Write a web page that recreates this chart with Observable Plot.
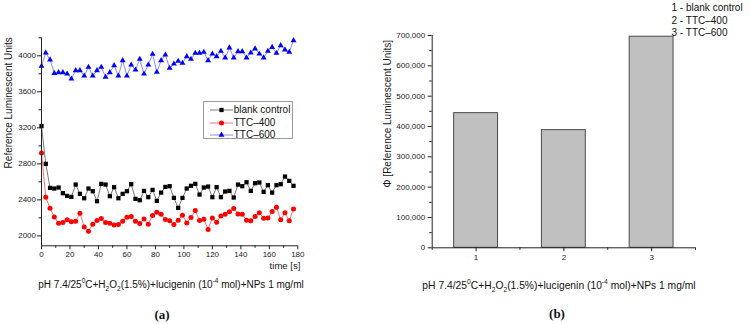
<!DOCTYPE html>
<html>
<head>
<meta charset="utf-8">
<script src="https://cdn.jsdelivr.net/npm/d3@7"></script>
<script src="https://cdn.jsdelivr.net/npm/@observablehq/plot@0.6"></script>
<style>
  body { margin: 0; background: #fff; }
  #wrap { position: relative; width: 750px; height: 324px; overflow: hidden;
          font-family: "Liberation Sans", Arial, sans-serif; color: #111; }
  .panel { position: absolute; top: 0; }
  .cap { position: absolute; white-space: nowrap; transform: translate(-50%, -50%); }
  .cap sub, .cap sup { font-size: 65%; line-height: 0; }
  .tag { position: absolute; transform: translate(-50%, -50%);
         font-family: "Liberation Serif", "Times New Roman", serif; font-weight: bold; font-size: 13px; }
  .legA { position: absolute; border: 1px solid #9a9a9a; background: #fff; box-sizing: border-box; }
  .legA .row { position: absolute; left: 0; height: 12px; font-size: 10px; line-height: 12px; white-space: nowrap; }
  .legA svg { position: absolute; left: 0; top: 0; }
  .legA span { position: absolute; left: 30px; top: 0; }
  .legB { position: absolute; font-size: 10px; line-height: 12.5px; white-space: nowrap; }
</style>
</head>
<body>
<div id="wrap"></div>
<script>
// ---- kinetics: time points [s] and luminescence of each sample ----
const time = [0, 3, 6, 9, 12, 15, 18, 21, 24, 27, 30, 33, 36, 39, 42, 45, 48, 51, 54, 57,
              60, 63, 66, 69, 72, 75, 78, 81, 84, 87, 90, 93, 96, 99, 102, 105, 108, 111, 114, 117,
              120, 123, 126, 129, 132, 135, 138, 141, 144, 147, 150, 153, 156, 159, 162, 165, 168, 171, 174, 177];

const blankControl = [3220, 2800, 2533, 2526, 2537, 2474, 2444, 2433, 2570, 2467,
                      2418, 2526, 2496, 2385, 2578, 2570, 2441, 2541, 2418, 2467,
                      2496, 2574, 2411, 2396, 2500, 2430, 2511, 2389, 2481, 2544,
                      2552, 2422, 2311, 2422, 2526, 2556, 2578, 2459, 2537, 2548,
                      2430, 2541, 2430, 2493, 2500, 2426, 2570, 2552, 2596, 2500,
                      2585, 2593, 2489, 2563, 2481, 2563, 2574, 2659, 2611, 2556];

const ttc400 = [2922, 2430, 2307, 2211, 2141, 2148, 2178, 2156, 2163, 2252,
                2100, 2052, 2130, 2170, 2193, 2148, 2141, 2122, 2126, 2163,
                2207, 2215, 2163, 2137, 2189, 2130, 2226, 2263, 2241, 2181,
                2167, 2126, 2174, 2230, 2144, 2204, 2281, 2170, 2185, 2070,
                2200, 2152, 2222, 2241, 2267, 2304, 2244, 2241, 2174, 2167,
                2215, 2256, 2196, 2200, 2270, 2319, 2178, 2256, 2167, 2300];

const ttc600 = [3885, 4033, 3956, 3807, 3815, 3815, 3800, 3744, 3837, 3837,
                3778, 3874, 3778, 3837, 3874, 3763, 3815, 3893, 3778, 3948,
                3778, 3900, 3844, 3963, 3800, 3900, 4019, 3819, 3948, 4011,
                3863, 3911, 3941, 3919, 3993, 3963, 4030, 4030, 4041, 3948,
                4022, 3993, 4052, 3978, 4089, 3978, 4048, 4048, 3978, 4033,
                4078, 4022, 3978, 4052, 4096, 4030, 4115, 4067, 4041, 4170];

const seriesNames = ["blank control", "TTC\u2013400", "TTC\u2013600"];

// axis ticks of the kinetics panel
const xTicksA = [0, 20, 40, 60, 80, 100, 120, 140, 160, 180];
const xMinorA = [10, 30, 50, 70, 90, 110, 130, 150, 170];
const yTicksA = [2000, 2400, 2800, 3200, 3600, 4000];
const yMinorA = [2200, 2600, 3000, 3400, 3800, 4200];
const xDomainA = [0, 180];
const yDomainA = [1890, 4200];

// ---- integrated light output of each sample ----
const barKeys = [1, 2, 3];
const barValues = [444000, 388000, 696000];
const barLegend = ["1 - blank control", "2 - TTC\u2013400", "3 - TTC\u2013600"];

const xTicksB = [1, 2, 3];
const xMinorB = [0.5, 1.5, 2.5, 3.5];
const yTicksB = [0, 100000, 200000, 300000, 400000, 500000, 600000, 700000];
const yMinorB = [50000, 150000, 250000, 350000, 450000, 550000, 650000];
const xDomainB = [0.5, 3.5];
const yDomainB = [0, 700000];

// ---- drawing ----
const FONT = "Liberation Sans, Arial, sans-serif";
const wrap = document.getElementById("wrap");

const look = [
  {symbol: "square",   r: 2.4, fill: "#000000", line: "#555555"},
  {symbol: "circle",   r: 2.5, fill: "#ff0000", line: "#ff4a4a"},
  {symbol: "triangle", r: 2.2, fill: "#0000ff", line: "#6b6bff"}
];
const seriesValues = [blankControl, ttc400, ttc600];
const series = seriesNames.map((name, k) =>
  time.map((t, i) => ({t, v: seriesValues[k][i], name})));

const seriesMarks = series.flatMap((rows, k) => [
  Plot.line(rows, {x: "t", y: "v", stroke: look[k].line, strokeWidth: 0.8}),
  Plot.dot(rows, {x: "t", y: "v", symbol: look[k].symbol, r: look[k].r, fill: look[k].fill, stroke: "none"})
]);

const axisStyle = {stroke: "#222", label: null};

const chartA = Plot.plot({
  width: 375, height: 272,
  marginLeft: 41, marginRight: 77.7, marginTop: 37.3, marginBottom: 26.7,
  style: {fontFamily: FONT, fontSize: "8px", color: "#1a1a1a", background: "transparent", overflow: "visible"},
  x: {domain: xDomainA, axis: null},
  y: {domain: yDomainA, axis: null},
  marks: [
    ...seriesMarks,
    Plot.ruleX([xDomainA[0]], {stroke: "#222"}),
    Plot.ruleY([yDomainA[0]], {stroke: "#222"}),
    Plot.axisY({...axisStyle, ticks: yTicksA, tickSize: 4, tickPadding: 1.5, tickFormat: d3.format("d")}),
    Plot.axisY({...axisStyle, ticks: yMinorA, tickSize: 2.5, tickFormat: () => ""}),
    Plot.axisX({...axisStyle, ticks: xTicksA, tickSize: 4, tickPadding: 2, tickFormat: d3.format("d")}),
    Plot.axisX({...axisStyle, ticks: xMinorA, tickSize: 2.5, tickFormat: () => ""}),
    Plot.text(["Reference Luminescent Units"], {frameAnchor: "left", rotate: -90, dx: -32.5, dy: -39,
      textAnchor: "middle", lineAnchor: "middle", fontSize: 10, fill: "#1a1a1a"}),
    Plot.text(["time [s]"], {frameAnchor: "bottom-right", textAnchor: "end", lineAnchor: "middle",
      dx: 2.7, dy: 19.7, fontSize: 9.6, fill: "#1a1a1a"})
  ]
});
chartA.classList.add("panel");
chartA.style.left = "0px";
wrap.appendChild(chartA);

const bars = barKeys.map((k, i) => ({k, v: barValues[i]}));
const chartB = Plot.plot({
  width: 375, height: 272,
  marginLeft: 56.7, marginRight: 55, marginTop: 35, marginBottom: 24.7,
  style: {fontFamily: FONT, fontSize: "8px", color: "#1a1a1a", background: "transparent", overflow: "visible"},
  x: {domain: xDomainB, axis: null},
  y: {domain: yDomainB, axis: null},
  marks: [
    Plot.rect(bars, {x1: d => d.k - 0.25, x2: d => d.k + 0.25, y1: () => 0, y2: "v",
      fill: "#c0c0c0", stroke: "#4a4a4a", strokeWidth: 1}),
    Plot.ruleX([xDomainB[0]], {stroke: "#222"}),
    Plot.ruleY([yDomainB[0]], {stroke: "#222"}),
    Plot.axisY({...axisStyle, ticks: yTicksB, tickSize: 4, tickPadding: 3, tickFormat: d3.format(",")}),
    Plot.axisY({...axisStyle, ticks: yMinorB, tickSize: 2.5, tickFormat: () => ""}),
    Plot.axisX({...axisStyle, ticks: xTicksB, tickSize: 4, tickPadding: 2.5, tickFormat: d3.format("d")}),
    Plot.axisX({...axisStyle, ticks: xMinorB, tickSize: 2.5, tickFormat: () => ""}),
    Plot.text(["\u03A6 [Reference Luminescent Units]"], {frameAnchor: "left", rotate: -90, dx: -44.5, dy: -28,
      textAnchor: "middle", lineAnchor: "middle", fontSize: 10, fill: "#1a1a1a"})
  ]
});
chartB.classList.add("panel");
chartB.style.left = "375px";
wrap.appendChild(chartB);

// legend of the kinetics panel: line sample + marker + name
const legA = document.createElement("div");
legA.className = "legA";
Object.assign(legA.style, {left: "202.7px", top: "101px", width: "90.6px", height: "38.3px"});
seriesNames.forEach((name, k) => {
  const row = document.createElement("div");
  row.className = "row";
  row.style.top = (2.3 + k * 12.4) + "px";
  const size = Math.PI * look[k].r * look[k].r;
  const sym = {square: d3.symbolSquare, circle: d3.symbolCircle, triangle: d3.symbolTriangle}[look[k].symbol];
  row.innerHTML =
    `<svg width="30" height="12"><line x1="6" x2="29" y1="6" y2="6" stroke="${look[k].line}" stroke-width="0.8"/>` +
    `<path transform="translate(17.5,6)" d="${d3.symbol(sym, size)()}" fill="${look[k].fill}"/></svg>` +
    `<span>${name}</span>`;
  legA.appendChild(row);
});
wrap.appendChild(legA);

// key of the bar panel
const legB = document.createElement("div");
legB.className = "legB";
Object.assign(legB.style, {left: "671.5px", top: "2px"});
legB.innerHTML = barLegend.join("<br>");
wrap.appendChild(legB);

// experimental conditions under each panel, and panel tags
const conditions = 'pH 7.4/25<sup>0</sup>C+H<sub>2</sub>O<sub>2</sub>(1.5%)+lucigenin (10<sup>-4</sup> mol)+NPs 1 mg/ml';
[[171, 283.5, 10], [559, 285, 10.3]].forEach(([x, y, fs]) => {
  const c = document.createElement("div");
  c.className = "cap";
  Object.assign(c.style, {left: x + "px", top: y + "px", fontSize: fs + "px"});
  c.innerHTML = conditions;
  wrap.appendChild(c);
});
[["(a)", 162, 315], ["(b)", 557, 314]].forEach(([t, x, y]) => {
  const c = document.createElement("div");
  c.className = "tag";
  Object.assign(c.style, {left: x + "px", top: y + "px"});
  c.textContent = t;
  wrap.appendChild(c);
});
</script>
</body>
</html>
